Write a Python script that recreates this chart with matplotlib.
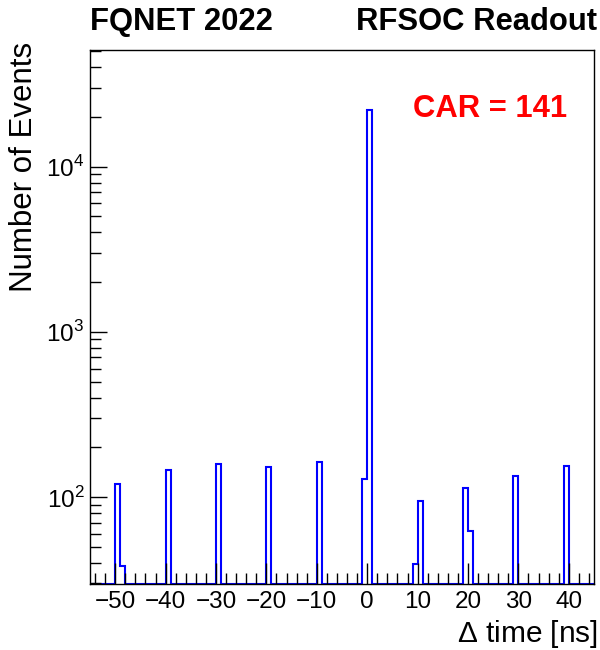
import numpy as np
import matplotlib
matplotlib.use("Agg")
from matplotlib import pyplot as plt
from matplotlib.ticker import FixedLocator, LogLocator, NullFormatter, FuncFormatter

plt.rcParams['font.family'] = ['Liberation Sans', 'DejaVu Sans']
plt.rcParams['mathtext.fontset'] = 'custom'
plt.rcParams['mathtext.rm'] = 'Liberation Sans'
plt.rcParams['axes.unicode_minus'] = True

# histogram range and binning (1 ns bins)
x_min, x_max = -55, 45
# left edges of the non-empty bins and their counts
bin_left = [-50, -49, -40, -30, -20, -10, -1, 0, 9, 10, 19, 20, 29, 39]
bin_counts = [120, 38, 145, 158, 152, 162, 128, 22000, 39, 94, 113, 62, 134, 154]

y_min, y_max = 29.7, 51000

edges = np.arange(x_min, x_max + 1, 1)
counts = np.zeros(len(edges) - 1)
for left, c in zip(bin_left, bin_counts):
    counts[left - x_min] = c

fig = plt.figure(figsize=(6, 6.5), dpi=100)
ax = fig.add_axes([0.15, 1 - 584 / 650, 0.84, (584 - 50) / 650])

# empty bins drawn along the bottom of the frame, like ROOT does
ax.stairs(np.maximum(counts, y_min), edges, color='blue', linewidth=1.5, baseline=None)

ax.set_yscale('log')
ax.set_xlim(x_min, x_max)
ax.set_ylim(y_min, y_max)

ax.xaxis.set_major_locator(FixedLocator(np.arange(-50, 41, 10)))
ax.xaxis.set_minor_locator(FixedLocator(np.arange(-54, 45, 2)))
ax.yaxis.set_major_locator(LogLocator(base=10, numticks=10))
ax.yaxis.set_minor_locator(LogLocator(base=10, subs=np.arange(2, 10), numticks=20))
ax.yaxis.set_major_formatter(FuncFormatter(lambda v, p: r'$10^{%d}$' % round(np.log10(v))))
ax.yaxis.set_minor_formatter(NullFormatter())

ax.tick_params(which='both', direction='in', top=False, right=False, labelsize=17.5, width=1)
ax.tick_params(axis='x', which='major', length=15, pad=5)
ax.tick_params(axis='x', which='minor', length=8)
ax.tick_params(axis='y', which='major', length=12, pad=4)
ax.tick_params(axis='y', which='minor', length=8)
for s in ax.spines.values():
    s.set_linewidth(1)

fig.text(598 / 600, 1 - 642 / 650, r'$\Delta$ time [ns]', fontsize=21.5, ha='right', va='baseline')
fig.text(24 / 600, 1 - 42 / 650, 'Number of Events', fontsize=22.5, rotation=90, ha='center', va='top')

fig.text(90 / 600, 1 - 30 / 650, 'FQNET 2022', fontsize=22.3, fontweight='bold', ha='left', va='baseline')
fig.text(597 / 600, 1 - 30 / 650, 'RFSOC Readout', fontsize=22.3, fontweight='bold', ha='right', va='baseline')
fig.text(413 / 600, 1 - 117 / 650, 'CAR = 141', fontsize=22.3, fontweight='bold', color='red', ha='left', va='baseline')

plt.savefig('out.png', dpi=100)
